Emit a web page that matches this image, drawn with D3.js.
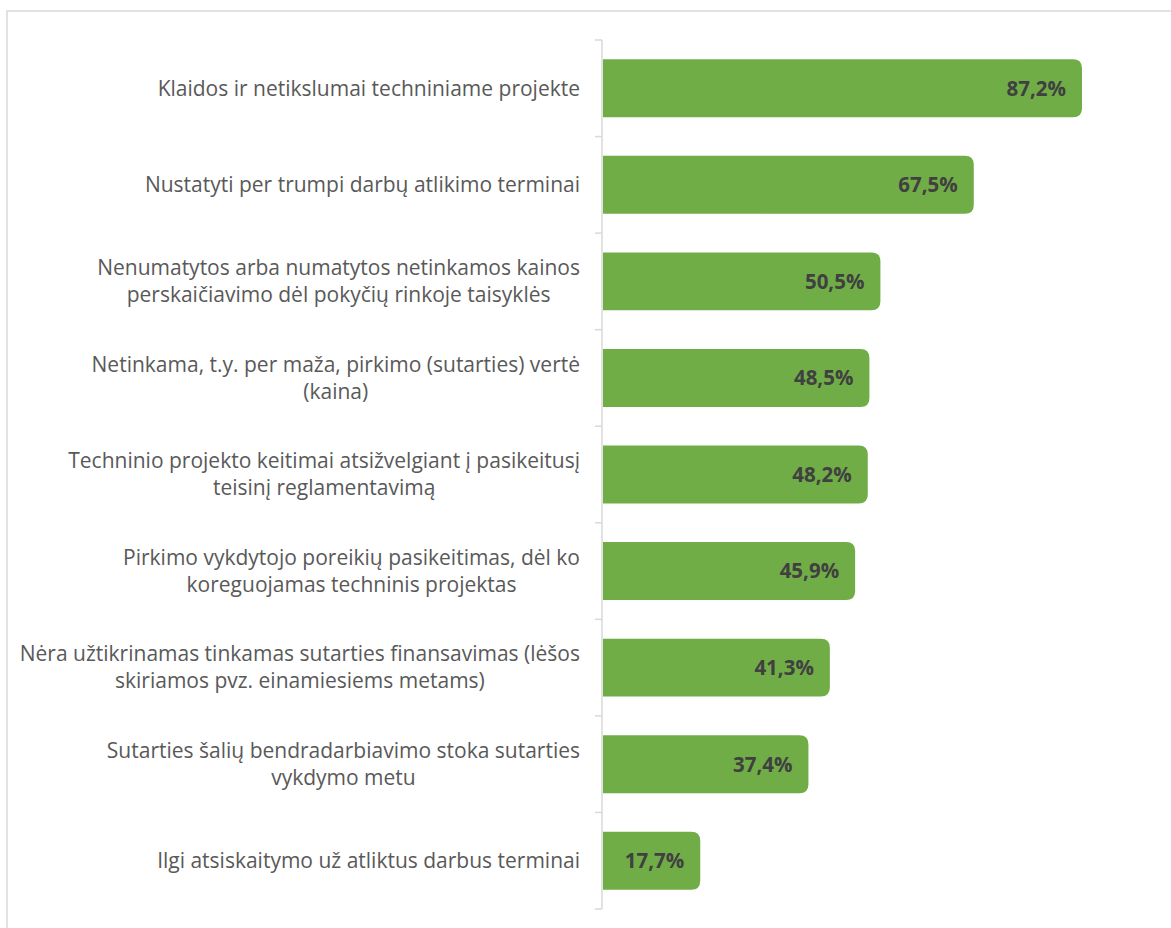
<!DOCTYPE html>
<html>
<head>
<meta charset="utf-8">
<script src="https://cdn.jsdelivr.net/npm/d3@7"></script>
<style>
  body{margin:0;background:#fff;}
  text{font-family:"Open Sans",sans-serif;}
</style>
</head>
<body>
<svg id="chart" width="1171" height="928"></svg>
<script>
// data
var labels = [
  ['Klaidos ir netikslumai techniniame projekte'],
  ['Nustatyti per trumpi darbų atlikimo terminai'],
  ['Nenumatytos arba numatytos netinkamos kainos','perskaičiavimo dėl pokyčių rinkoje taisyklės'],
  ['Netinkama, t.y. per maža, pirkimo (sutarties) vertė','(kaina)'],
  ['Techninio projekto keitimai atsižvelgiant į pasikeitusį','teisinį reglamentavimą'],
  ['Pirkimo vykdytojo poreikių pasikeitimas, dėl ko','koreguojamas techninis projektas'],
  ['Nėra užtikrinamas tinkamas sutarties finansavimas (lėšos','skiriamos pvz. einamiesiems metams)'],
  ['Sutarties šalių bendradarbiavimo stoka sutarties','vykdymo metu'],
  ['Ilgi atsiskaitymo už atliktus darbus terminai']
];
var values = [87.2, 67.5, 50.5, 48.5, 48.2, 45.9, 41.3, 37.4, 17.7];

var svg = d3.select('#chart');
var ox = 602, yTop = 40, yBot = 909, labRight = 580;

// frame
svg.append('rect').attr('x',7).attr('y',11).attr('width',1200).attr('height',1000)
  .attr('fill','none').attr('stroke','#d9d9d9').attr('stroke-width',1.5);

var idx = d3.range(values.length);
var y = d3.scaleBand().domain(idx).range([yTop,yBot]).paddingInner(0.4).paddingOuter(0.2);
var x = d3.scaleLinear().domain([0,87.2]).range([ox+1,1082]);

// axis line with ticks at band boundaries
var step = y.step();
var bounds = d3.range(values.length+1).map(i => yTop + i*step);
var ax = svg.append('g');
ax.append('line').attr('x1',ox).attr('x2',ox).attr('y1',yTop).attr('y2',yBot)
  .attr('stroke','#d9d9d9').attr('stroke-width',1.5);
ax.selectAll('.tick').data(bounds).enter().append('line')
  .attr('x1',ox-7).attr('x2',ox).attr('y1',d=>d).attr('y2',d=>d)
  .attr('stroke','#d9d9d9').attr('stroke-width',1.5);

// bars with rounded right end
function barPath(x0,x1,y0,h,r){
  r = Math.min(r,(x1-x0)/2,h/2);
  return 'M'+x0+','+y0+'H'+(x1-r)+'Q'+x1+','+y0+' '+x1+','+(y0+r)
    +'V'+(y0+h-r)+'Q'+x1+','+(y0+h)+' '+(x1-r)+','+(y0+h)+'H'+x0+'Z';
}
var bars = svg.append('g').selectAll('.bar').data(values).enter().append('g');
bars.append('path').attr('fill','#70ad47')
  .attr('d',(d,i)=>barPath(x(0),x(d),y(i),y.bandwidth(),9));
bars.append('text')
  .attr('x',d=>x(d)-16).attr('y',(d,i)=>y(i)+y.bandwidth()/2)
  .attr('dy','0.36em').attr('text-anchor','end')
  .style('font-weight','bold').style('font-size','20.5px').attr('fill','#404040')
  .text(d=>d.toFixed(1).replace('.',',')+'%');

// category labels, lines centred on the widest line, right edge at labRight
var lab = svg.append('g').selectAll('.lab').data(labels).enter().append('text')
  .attr('text-anchor','middle').attr('fill','#595959').style('font-size','21px')
  .attr('transform',(d,i)=>'translate(0,'+(y(i)+y.bandwidth()/2)+')');
lab.selectAll('tspan').data(d=>d).enter().append('tspan')
  .attr('y',(t,j,n)=>(j-(n.length-1)/2)*27)
  .attr('dy','0.35em')
  .text(t=>t);
lab.each(function(){
  var spans = d3.select(this).selectAll('tspan');
  var w = d3.max(spans.nodes(), n => n.getComputedTextLength());
  spans.attr('x', labRight - w/2);
});
</script>
</body>
</html>
